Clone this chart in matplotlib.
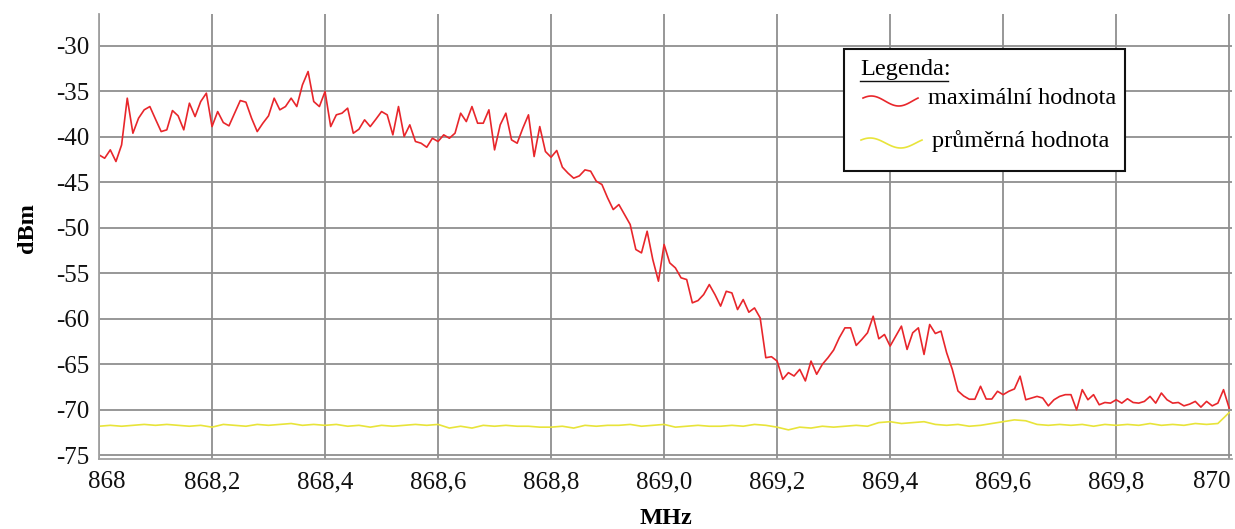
import numpy as np
import matplotlib
matplotlib.use("Agg")
import matplotlib.pyplot as plt
from matplotlib.lines import Line2D
from matplotlib.patches import Rectangle
import matplotlib.transforms as mtransforms

plt.rcParams['font.family'] = ['Liberation Serif', 'DejaVu Serif']
plt.rcParams['axes.unicode_minus'] = False

# sweep points of the red trace (0.01 MHz step)
freq_max = np.linspace(868.0, 870.0, 201)
max_dbm = [
    -41.98, -42.35, -41.43, -42.71, -40.88, -35.75, -39.60, -37.95, -37.03, -36.67,
    -38.06, -39.42, -39.23, -37.11, -37.69, -39.23, -36.30, -37.77, -36.12, -35.20,
    -38.87, -37.22, -38.43, -38.79, -37.40, -36.01, -36.19, -37.95, -39.42, -38.50,
    -37.69, -35.75, -37.03, -36.67, -35.75, -36.67, -34.29, -32.82, -36.12, -36.67,
    -35.02, -38.87,
    -37.58, -37.40, -36.85, -39.60, -39.16, -38.13, -38.87, -38.06, -37.22, -37.58,
    -39.78, -36.67, -39.96, -38.68, -40.51, -40.70, -41.14, -40.15, -40.51, -39.78,
    -40.15, -39.60, -37.40, -38.32, -36.67, -38.50, -38.50, -37.03, -41.43, -38.68,
    -37.40, -40.33, -40.70, -39.05, -37.58, -42.16, -38.87, -41.61, -42.24, -41.50,
    -43.33, -43.99, -44.54, -44.29, -43.63,
    -43.77, -44.87, -45.24, -46.70, -47.99, -47.44, -48.53, -49.63, -52.38, -52.75,
    -50.37, -53.48, -55.86, -51.83, -53.85, -54.40, -55.49, -55.68, -58.24, -57.99,
    -57.33, -56.23, -57.33, -58.60,
    -56.97, -57.15, -58.98, -57.88, -59.27, -58.80, -59.89, -64.27, -64.16, -64.64,
    -66.64, -65.91, -66.28, -65.55, -66.82, -64.64, -66.09, -65.00, -64.27, -63.43,
    -62.08, -60.99, -60.99, -62.92, -62.26, -61.53, -59.71, -62.19, -61.72, -62.99,
    -61.90, -60.80, -63.36, -61.53, -60.99, -63.91, -60.62, -61.61, -61.35, -63.72,
    -65.55, -67.92, -68.47, -68.83, -68.83,
    -67.41, -68.81, -68.81, -67.96, -68.33, -67.96, -67.70, -66.30, -68.89, -68.70,
    -68.52, -68.70, -69.56, -68.89, -68.52, -68.33, -68.33, -70.00, -67.78, -68.89,
    -68.33, -69.44, -69.19, -69.26, -68.89, -69.26, -68.78, -69.19, -69.26, -69.07,
    -68.52, -69.26, -68.15, -68.89, -69.26, -69.19, -69.56, -69.37, -69.07, -69.70,
    -69.07, -69.56, -69.26, -67.78, -69.81,
]

# yellow trace read at 0.02 MHz step
freq_avg = np.linspace(868.0, 870.0, 101)
avg_dbm = [
    -71.8, -71.7, -71.8, -71.7, -71.6, -71.7, -71.6, -71.7, -71.8, -71.7, -71.9,
    -71.6, -71.7, -71.8, -71.6, -71.7, -71.6, -71.5, -71.7, -71.6, -71.7,
    -71.6, -71.8, -71.7, -71.9, -71.7, -71.8, -71.7, -71.6, -71.7, -71.6,
    -72.0, -71.8, -72.0, -71.7, -71.8, -71.7, -71.8, -71.8, -71.9, -71.9,
    -71.8, -72.0, -71.7, -71.8, -71.7, -71.7, -71.6, -71.8, -71.7, -71.6,
    -71.9, -71.8, -71.7, -71.8, -71.8, -71.7, -71.8, -71.6, -71.7, -71.9,
    -72.2, -71.9, -72.0, -71.8, -71.9, -71.8, -71.7, -71.8, -71.4, -71.3,
    -71.5, -71.4, -71.3, -71.6, -71.7, -71.6, -71.8, -71.7, -71.5, -71.3,
    -71.1, -71.2, -71.6, -71.7, -71.6, -71.7, -71.6, -71.8, -71.6, -71.7,
    -71.6, -71.7, -71.5, -71.7, -71.6, -71.7, -71.5, -71.6, -71.5, -70.3,
]

xticks = [868.0, 868.2, 868.4, 868.6, 868.8, 869.0, 869.2, 869.4, 869.6, 869.8, 870.0]
xtick_labels = ['868', '868,2', '868,4', '868,6', '868,8', '869,0',
                '869,2', '869,4', '869,6', '869,8', '870']
yticks = [-75, -70, -65, -60, -55, -50, -45, -40, -35, -30]

red = '#e8262b'
yellow = '#e8e43a'
grid_col = '#8f8f8f'
fs = 18

fig = plt.figure(figsize=(12.35, 5.29), dpi=100)
ax = fig.add_axes([99 / 1235, 1 - 459 / 529, (1232 - 99) / 1235, (459 - 14) / 529])

ax.plot(freq_avg, avg_dbm, color=yellow, lw=1.2)
ax.plot(freq_max, max_dbm, color=red, lw=1.2)

ax.set_xlim(868.0, 870.005)
ax.set_ylim(-75.4, -26.5)
ax.set_xticks(xticks)
ax.set_xticklabels(xtick_labels)
ax.set_yticks(yticks)
ax.grid(True, color=grid_col, lw=1.3)
ax.set_axisbelow(True)
ax.tick_params(axis='both', length=0, labelsize=fs, colors='#111111')
ax.tick_params(axis='x', pad=9)
ax.tick_params(axis='y', pad=7)
for s in ['top', 'right']:
    ax.spines[s].set_visible(False)
for s in ['left', 'bottom']:
    ax.spines[s].set_color('#a0a0a0')
    ax.spines[s].set_linewidth(1.3)

# keep end labels inside like the original
labels = ax.get_xticklabels()
labels[0].set_transform(labels[0].get_transform() +
                        mtransforms.ScaledTranslation(8 / 100, 0, fig.dpi_scale_trans))
labels[-1].set_transform(labels[-1].get_transform() +
                         mtransforms.ScaledTranslation(-17 / 100, 0, fig.dpi_scale_trans))

fig.text(27 / 1235, 1 - 228 / 529, 'dBm', rotation=90, fontsize=17.5,
         fontweight='bold', ha='center', va='center')
fig.text(666 / 1235, 1 - 519 / 529, 'MHz', fontsize=17.5,
         fontweight='bold', ha='center', va='center')

# legend box
fig.patches.append(Rectangle((844 / 1235, 1 - 171 / 529), (1125 - 844) / 1235,
                             (171 - 49) / 529, transform=fig.transFigure,
                             facecolor='white', edgecolor='#111111', lw=1.5, zorder=5))
fig.text(860 / 1235, 1 - 70 / 529, 'Legenda:', fontsize=17.5, ha='left',
         va='center', zorder=6)
fig.lines.append(Line2D([860 / 1235, 948 / 1235], [1 - 81 / 529, 1 - 81 / 529],
                        transform=fig.transFigure, color='#111111', lw=1.0, zorder=6))
fig.text(928 / 1235, 1 - 99 / 529, 'maximální hodnota', fontsize=17.5, ha='left',
         va='center', zorder=6)
fig.text(932 / 1235, 1 - 141 / 529, 'průměrná hodnota', fontsize=17.5, ha='left',
         va='center', zorder=6)

t = np.linspace(0, 1, 40)
for x0, x1, yc, col in [(863, 918, 101, red), (861, 922, 143, yellow)]:
    xs = x0 + (x1 - x0) * t
    ys = yc - 5 * np.sin(2 * np.pi * (t + 0.1))
    fig.lines.append(Line2D(xs / 1235, 1 - ys / 529, transform=fig.transFigure,
                            color=col, lw=1.2, zorder=6))

fig.savefig('out.png', dpi=100)
